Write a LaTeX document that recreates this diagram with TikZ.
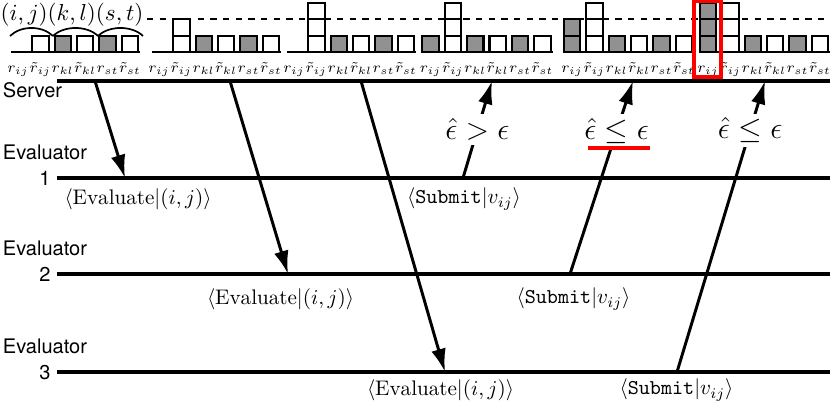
\documentclass[tikz,border=0pt]{standalone}
\usepackage{fontspec}
\setsansfont{TeX Gyre Heros}
\usetikzlibrary{arrows.meta}
\definecolor{barfill}{RGB}{145,145,145}
\tikzset{
  timeline/.style={line width=1.9pt},
  msg/.style={line width=1.4pt, -{Latex[length=11pt,width=7pt]}},
  rbase/.style={line width=1pt},
  rgray/.style={draw, line width=1pt, fill=barfill},
  rwhite/.style={draw, line width=1pt, fill=white},
  rlab/.style={anchor=base, font=\scriptsize, inner sep=0pt},
  pairarc/.style={line width=0.8pt},
  who/.style={font=\sffamily\fontsize{9.5}{12}\selectfont, align=center, anchor=base},
  cmd/.style={font=\normalsize},
  cond/.style={font=\Large, fill=white, inner sep=2pt},
  redmark/.style={red, line width=1.5pt}
}
\begin{document}
\begin{tikzpicture}[x=0.474pt, y=-0.474pt]
    \useasboundingbox (0,0) rectangle (830,404);

    % threshold and the bars of each round
    \draw[dashed, line width=0.9pt] (147,19.4) -- (830,19.4);
    \foreach \n/\p/\a/\b in {1/18/0/1,2/159/0/2,3/294/0/3,4/430.5/1/3,5/572/2/3,6/708/3/3}{
      \draw[rbase] (\p-7,52) -- (\p+122,52);
      \foreach \k in {1,2,3}{
        \ifnum\k>\a\else
          \draw[rgray] (\p-8.2,{52-16.3*(\k-1)}) rectangle ++(16.4,-16.3);
        \fi
        \ifnum\k>\b\else
          \draw[rwhite] (\p+14.2,{52-16.3*(\k-1)}) rectangle ++(16.4,-16.3);
        \fi
      }
      \foreach \s/\st in {2/rgray,3/rwhite,4/rgray,5/rwhite}{
        \draw[\st] ({\p+22.4*\s-8.2},52) rectangle ++(16.4,-16.3);
      }
      \foreach \s/\lab in {0/r_{ij},1/\tilde{r}_{ij},2/r_{kl},3/\tilde{r}_{kl},4/r_{st},5/\tilde{r}_{st}}{
        \node[rlab] (lab\n\s) at ({\p+22.4*\s},72) {$\lab$};
      }
    }

    \foreach \u/\v in {10/53,53/98,98/143}{
      \draw[pairarc] (\u,36) .. controls (\u+11,25.3) and (\v-11,25.3) .. (\v,36);
    }
    \node[font=\fontsize{10.95}{13}\selectfont] (pairs) at (72,15) {$(i,j)(k,l)(s,t)$};

    \draw[redmark] (694,1.5) rectangle (721,77);

    % time lines
    \coordinate (srvL) at (57,81);  \coordinate (srvR) at (830,81);
    \coordinate (ev1L) at (57,178); \coordinate (ev1R) at (830,178);
    \coordinate (ev2L) at (57,274); \coordinate (ev2R) at (830,274);
    \coordinate (ev3L) at (57,372); \coordinate (ev3R) at (830,372);
    \draw[timeline] (srvL) -- (srvR);
    \draw[timeline] (ev1L) -- (ev1R);
    \draw[timeline] (ev2L) -- (ev2R);
    \draw[timeline] (ev3L) -- (ev3R);

    \node[who] (srvname) at (32.5,97) {Server};
    \node[who] (ev1name) at (45,185) {Evaluator\\1};
    \node[who] (ev2name) at (45,281) {Evaluator\\2};
    \node[who] (ev3name) at (45,379) {Evaluator\\3};

    % messages
    \coordinate (m1a) at (95,81);   \coordinate (m1b) at (125,178);
    \coordinate (m2a) at (230,81);  \coordinate (m2b) at (288,274);
    \coordinate (m3a) at (361,81);  \coordinate (m3b) at (445,372);
    \coordinate (m4a) at (463,178); \coordinate (m4b) at (492,81);
    \coordinate (m5a) at (570,274); \coordinate (m5b) at (633,81);
    \coordinate (m6a) at (677,372); \coordinate (m6b) at (765,81);
    \draw[msg] (m1a) -- (m1b);
    \draw[msg] (m2a) -- (m2b);
    \draw[msg] (m3a) -- (m3b);
    \draw[msg] (m4a) -- node[cond, pos=0.5] (c1) {$\hat{\epsilon} > \epsilon$} (m4b);
    \draw[msg] (m5a) -- node[cond, pos=0.74] (c2) {$\hat{\epsilon} \le \epsilon$} (m5b);
    \draw[msg] (m6a) -- node[cond, pos=0.83] (c3) {$\hat{\epsilon} \le \epsilon$} (m6b);

    \coordinate (ulL) at (588,148); \coordinate (ulR) at (650,148);
    \draw[redmark] (ulL) -- (ulR);

    \node[cmd] (eva1) at (138,199) {$\langle\mathrm{Evaluate}|(i,j)\rangle$};
    \node[cmd] (sub1) at (464,199) {$\langle\texttt{Submit}|v_{ij}\rangle$};
    \node[cmd] (eva2) at (280.5,299) {$\langle\mathrm{Evaluate}|(i,j)\rangle$};
    \node[cmd] (sub2) at (573.5,299) {$\langle\texttt{Submit}|v_{ij}\rangle$};
    \node[cmd] (eva3) at (440.5,390) {$\langle\mathrm{Evaluate}|(i,j)\rangle$};
    \node[cmd] (sub3) at (676.5,390) {$\langle\texttt{Submit}|v_{ij}\rangle$};
\end{tikzpicture}
\end{document}
